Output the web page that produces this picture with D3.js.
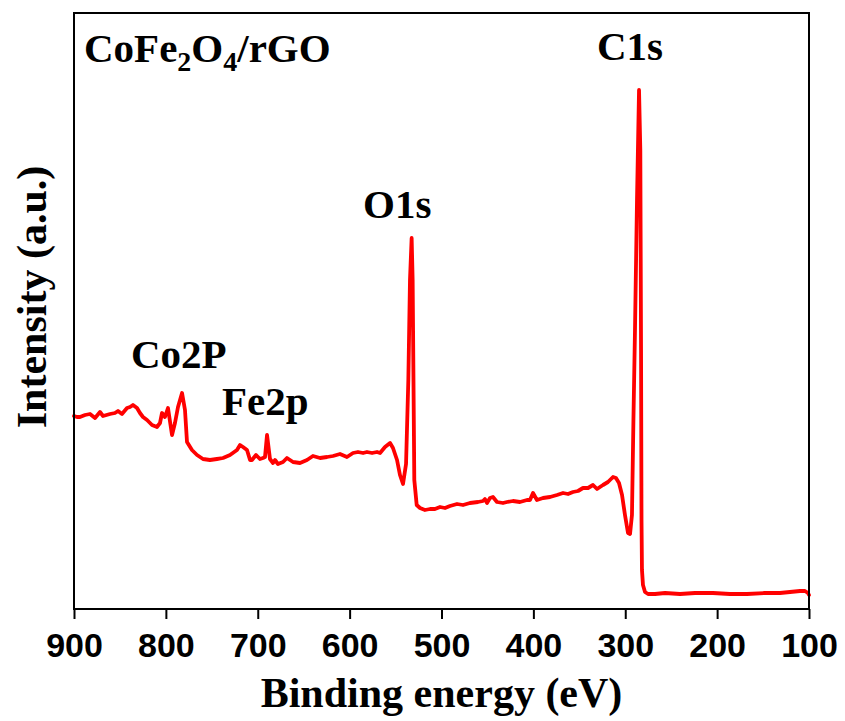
<!DOCTYPE html>
<html>
<head>
<meta charset="utf-8">
<script src="https://cdn.jsdelivr.net/npm/d3@7"></script>
<style>
  html, body { margin: 0; padding: 0; background: #fff; }
  svg { display: block; }
</style>
</head>
<body>
<svg id="chart" width="845" height="721"></svg>
<script>
// XPS survey spectrum of CoFe2O4/rGO
const bindingEnergy = [
  900.0, 896.7, 893.5, 888.0, 882.6, 877.1, 871.7, 868.4, 860.8, 855.4,
  852.1, 847.8, 842.3, 839.0, 835.8, 831.4, 828.2, 824.9, 820.5, 815.1,
  809.7, 806.4, 804.2, 801.0, 797.7, 793.3, 790.1, 786.8, 782.4, 779.2,
  777.0, 771.6, 766.1, 759.6, 752.0, 744.4, 737.8, 730.2, 722.6, 719.3,
  716.1, 711.7, 708.4, 706.3, 701.9, 697.6, 694.3, 692.1, 689.9, 686.7,
  683.4, 681.2, 678.0, 672.5, 668.2, 661.6, 654.0, 646.4, 639.9, 632.2,
  624.6, 618.1, 610.5, 602.9, 596.3, 590.9, 585.4, 581.1, 575.6, 570.2,
  566.9, 561.5, 556.0, 552.8, 548.4, 545.2, 541.9, 538.6, 536.1, 534.3,
  532.5, 531.4, 529.6, 527.0, 523.4, 518.0, 512.5, 507.1, 501.6, 496.2,
  490.8, 483.1, 476.6, 469.0, 460.3, 454.8, 452.7, 450.5, 447.2, 444.0,
  439.6, 433.1, 428.7, 422.2, 414.6, 406.9, 403.7, 400.4, 396.1, 389.5,
  381.9, 374.3, 367.7, 362.3, 356.9, 351.4, 346.0, 340.5, 335.1, 330.7,
  327.5, 324.2, 318.8, 313.3, 310.1, 306.8, 303.5, 300.3, 297.0, 294.8,
  292.7, 291.1, 289.4, 287.2, 285.0, 283.6, 282.8, 282.3, 281.8, 280.7,
  278.5, 275.2, 267.6, 256.7, 240.4, 224.1, 204.5, 186.0, 167.5, 147.9,
  131.6, 120.7, 109.8, 104.4, 101.1, 100.0
];
const intensity = [
  1930, 1920, 1920, 1940, 1950, 1910, 1970, 1930, 1950, 1960,
  1980, 1950, 2010, 2020, 2040, 2010, 1960, 1920, 1890, 1840,
  1820, 1860, 1960, 1920, 2010, 1740, 1860, 2020, 2160, 1990,
  1670, 1590, 1540, 1500, 1490, 1500, 1510, 1540, 1590, 1640,
  1620, 1590, 1490, 1490, 1540, 1500, 1510, 1520, 1740, 1500,
  1460, 1490, 1450, 1470, 1510, 1470, 1460, 1490, 1530, 1510,
  1520, 1530, 1550, 1520, 1560, 1570, 1560, 1570, 1560, 1570,
  1560, 1620, 1660, 1610, 1490, 1340, 1250, 1450, 2290, 3290,
  3710, 3290, 1290, 1040, 1010, 990, 1000, 1000, 1020, 1010,
  1030, 1050, 1040, 1060, 1070, 1080, 1100, 1060, 1110, 1120,
  1070, 1060, 1070, 1080, 1070, 1090, 1090, 1160, 1090, 1110,
  1120, 1140, 1160, 1150, 1170, 1180, 1210, 1210, 1240, 1200,
  1220, 1240, 1270, 1320, 1310, 1260, 1140, 940, 760, 750,
  940, 1890, 2790, 4090, 5190, 4590, 2590, 890, 390, 240,
  170, 150, 150, 160, 150, 160, 160, 150, 150, 160,
  160, 170, 180, 180, 160, 140
];
const xTicks = [900, 800, 700, 600, 500, 400, 300, 200, 100];
const peakLabels = ["C1s", "O1s", "Co2P", "Fe2p"];

const margin = { left: 74, top: 13, right: 36, bottom: 112 };
const W = 845, H = 721;
const svg = d3.select("#chart");

const x = d3.scaleLinear().domain([900, 100]).range([margin.left, W - margin.right]);
const y = d3.scaleLinear().domain([0, 5960]).range([H - margin.bottom, margin.top]);

const points = bindingEnergy.map((e, i) => [e, intensity[i]]);

// spectrum line
svg.append("path")
  .datum(points)
  .attr("fill", "none")
  .attr("stroke", "#ff0000")
  .attr("stroke-width", 3.8)
  .attr("stroke-linejoin", "round")
  .attr("stroke-linecap", "round")
  .attr("d", d3.line().x(d => x(d[0])).y(d => y(d[1])));

// frame
svg.append("rect")
  .attr("x", margin.left).attr("y", margin.top)
  .attr("width", W - margin.right - margin.left)
  .attr("height", H - margin.bottom - margin.top)
  .attr("fill", "none").attr("stroke", "#000").attr("stroke-width", 2);

// bottom axis
const xAxis = svg.append("g")
  .attr("transform", `translate(0,${H - margin.bottom})`)
  .call(d3.axisBottom(x).tickValues(xTicks).tickSize(10).tickPadding(14).tickFormat(d3.format("d")));
xAxis.select(".domain").remove();
xAxis.selectAll(".tick line").attr("stroke", "#000").attr("stroke-width", 2);
xAxis.selectAll(".tick text")
  .attr("fill", "#000")
  .style("font-family", "'Liberation Sans', Arial, sans-serif")
  .style("font-weight", "bold")
  .style("font-size", "34px");

const serif = "'Liberation Serif', 'Times New Roman', serif";

// axis titles
svg.append("text")
  .attr("x", (margin.left + W - margin.right) / 2)
  .attr("y", 707)
  .attr("text-anchor", "middle")
  .style("font-family", serif).style("font-weight", "bold").style("font-size", "42px")
  .text("Binding energy (eV)");

svg.append("text")
  .attr("transform", "translate(46,297) rotate(-90)")
  .attr("text-anchor", "middle")
  .style("font-family", serif).style("font-weight", "bold").style("font-size", "42px")
  .text("Intensity (a.u.)");

// sample name with subscripts
const title = svg.append("text")
  .attr("x", 84).attr("y", 62)
  .style("font-family", serif).style("font-weight", "bold").style("font-size", "41px");
title.append("tspan").text("CoFe");
title.append("tspan").attr("dy", 9).style("font-size", "28px").text("2");
title.append("tspan").attr("dy", -9).text("O");
title.append("tspan").attr("dy", 9).style("font-size", "28px").text("4");
title.append("tspan").attr("dy", -9).text("/rGO");

// peak labels
const labelPos = { "C1s": [597, 60], "O1s": [363, 218], "Co2P": [131, 368], "Fe2p": [222, 415] };
svg.selectAll("text.peak")
  .data(peakLabels)
  .join("text")
  .attr("class", "peak")
  .attr("x", d => labelPos[d][0])
  .attr("y", d => labelPos[d][1])
  .style("font-family", serif).style("font-weight", "bold").style("font-size", "41px")
  .text(d => d);
</script>
</body>
</html>
